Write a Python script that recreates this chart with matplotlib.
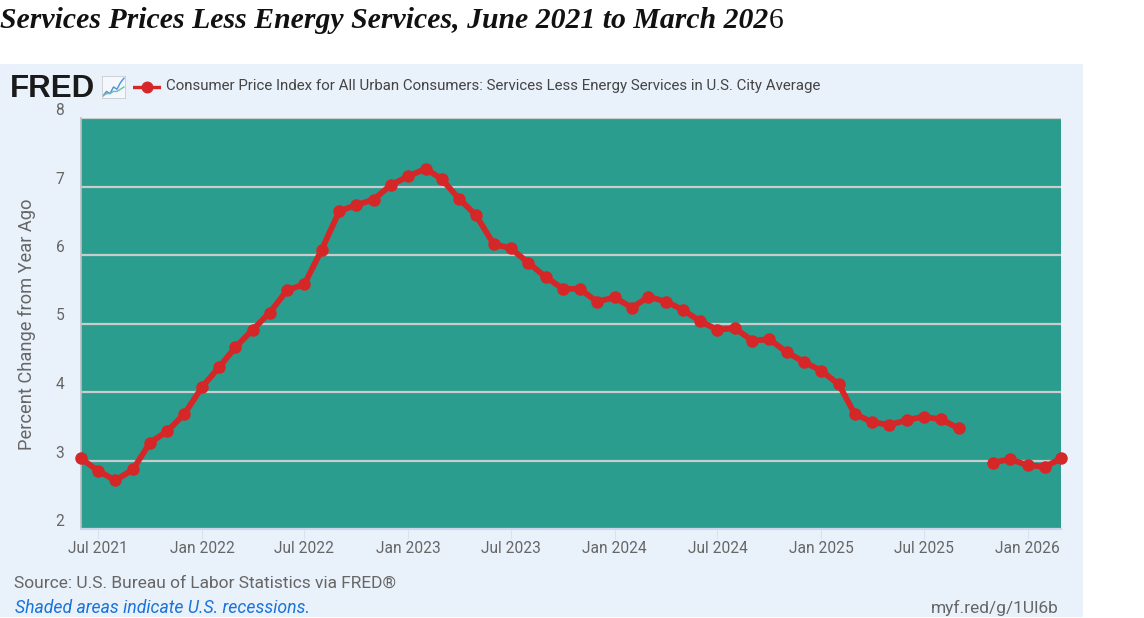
import numpy as np
import pandas as pd
import matplotlib
matplotlib.use("Agg")
import matplotlib.pyplot as plt
import matplotlib.dates as mdates
from matplotlib.patches import Rectangle

months = pd.date_range("2021-06-01", "2026-03-01", freq="MS")
values = [3.03, 2.85, 2.71, 2.87, 3.26, 3.43, 3.68,
          4.07, 4.37, 4.65, 4.91, 5.16, 5.49, 5.57, 6.08, 6.64, 6.73, 6.81, 7.02,
          7.15, 7.26, 7.11, 6.82, 6.58, 6.16, 6.10, 5.89, 5.68, 5.51, 5.50, 5.32,
          5.38, 5.23, 5.39, 5.32, 5.20, 5.03, 4.91, 4.93, 4.75, 4.77, 4.58, 4.44,
          4.31, 4.11, 3.68, 3.56, 3.52, 3.59, 3.64, 3.60, 3.47, np.nan, 2.97, 3.02,
          2.93, 2.91, 3.03]
yticks = [2, 3, 4, 5, 6, 7, 8]
xtick_dates = pd.to_datetime(["2021-07-01", "2022-01-01", "2022-07-01", "2023-01-01",
                              "2023-07-01", "2024-01-01", "2024-07-01", "2025-01-01",
                              "2025-07-01", "2026-01-01"])
title_main = "Services Prices Less Energy Services, June 2021 to March 202"
title_end = "6"
legend_label = "Consumer Price Index for All Urban Consumers: Services Less Energy Services in U.S. City Average"
ylabel = "Percent Change from Year Ago"
source = "Source: U.S. Bureau of Labor Statistics via FRED®"
shaded = "Shaded areas indicate U.S. recessions."
link = "myf.red/g/1Ul6b"
icon_a = [1, 3, 2, 5, 4, 7, 9]
icon_b = [1, 2, 2, 3, 3, 4, 5]

W, H = 1144, 618
GRAY = "#666666"
RED = "#d62728"

def fx(px): return px / W
def fy(py): return 1 - py / H

fig = plt.figure(figsize=(W / 100, H / 100), dpi=100, facecolor="white")
fig.patches.append(Rectangle((0, fy(617)), fx(1083), fy(64) - fy(617), transform=fig.transFigure,
                             facecolor="#e9f1fb", edgecolor="none", zorder=-5))

ax = fig.add_axes([fx(81), fy(529), fx(980), fy(118) - fy(529)])
ax.set_facecolor("#2a9d8f")
ax.set_xlim(months[0], months[-1])
ax.set_ylim(2, 8)
ax.set_yticks(yticks)
ax.set_xticks(xtick_dates)
ax.xaxis.set_major_formatter(mdates.DateFormatter("%b %Y"))
ax.grid(axis="y", color="#c9cccc", lw=1.6, zorder=1)
ax.set_axisbelow(True)
for s in ("top", "right"):
    ax.spines[s].set_visible(False)
ax.spines["left"].set_color("#b8c0c4")
ax.spines["left"].set_linewidth(1.2)
ax.spines["bottom"].set_color("#ccd6eb")
ax.spines["bottom"].set_linewidth(1.5)
ax.tick_params(axis="x", length=7, width=0.8, color="#d8e2f0", labelsize=11.2, labelcolor=GRAY, pad=1.5, direction="out")
ax.tick_params(axis="y", length=0, labelsize=11.2, labelcolor=GRAY, pad=12)
for lab in ax.get_xticklabels() + ax.get_yticklabels():
    lab.set_fontfamily("Roboto")
for lab in ax.get_yticklabels():
    lab.set_va("bottom")
ax.plot(months, values, color=RED, lw=4.2, marker="o", ms=8, clip_on=False, zorder=5,
        solid_joinstyle="round")

fig.text(fx(27), fy(324), ylabel, rotation=90, ha="center", va="center", color=GRAY,
         fontsize=13.15, fontfamily="Roboto")

# Title
t = fig.text(fx(0), fy(28), title_main, fontsize=21.4, fontweight="bold", fontstyle="italic",
             fontfamily="Liberation Serif", color="#111111", ha="left", va="baseline")
fig.canvas.draw()
bb = t.get_window_extent()
fig.text(bb.x1 / W, fy(28), title_end, fontsize=21.4, fontfamily="Liberation Serif",
         color="#111111", ha="left", va="baseline")

# FRED logo
fig.text(fx(10), fy(97), "FRED", fontsize=22.5, fontweight="bold", fontfamily="Liberation Sans",
         color="#1a1a1a", ha="left", va="baseline")
iax = fig.add_axes([fx(102), fy(98), fx(23), fy(76) - fy(98)])
iax.set_facecolor("#f4f7fb")
iax.set_xticks([]); iax.set_yticks([])
for s in iax.spines.values():
    s.set_color("#c8ccd0"); s.set_linewidth(0.6)
iax.plot(icon_a, color="#4a90d9", lw=1)
iax.plot(icon_b, color="#6cc0a8", lw=1)
iax.set_ylim(0, 10)

# Legend
lax = fig.add_axes([fx(133), fy(94), fx(28), fy(80) - fy(94)])
lax.axis("off")
lax.set_xlim(0, 1); lax.set_ylim(0, 1)
lax.plot([0, 1], [0.5, 0.5], color=RED, lw=2.4)
lax.plot([0.5], [0.5], color=RED, marker="o", ms=7.6)
fig.text(fx(166), fy(86), legend_label, fontsize=10.8, color="#444444", fontfamily="Roboto",
         ha="left", va="center")

# Footer
fig.text(fx(14), fy(588), source, fontsize=12.55, color=GRAY, fontfamily="Roboto", ha="left", va="baseline")
fig.text(fx(15), fy(613), shaded, fontsize=12.7, color="#1a73d9", fontstyle="italic",
         fontfamily="Roboto", ha="left", va="baseline")
fig.text(fx(1059), fy(613), link, fontsize=12.5, color=GRAY, fontfamily="Roboto", ha="right", va="baseline")

fig.savefig("out.png", dpi=100, facecolor="white")
